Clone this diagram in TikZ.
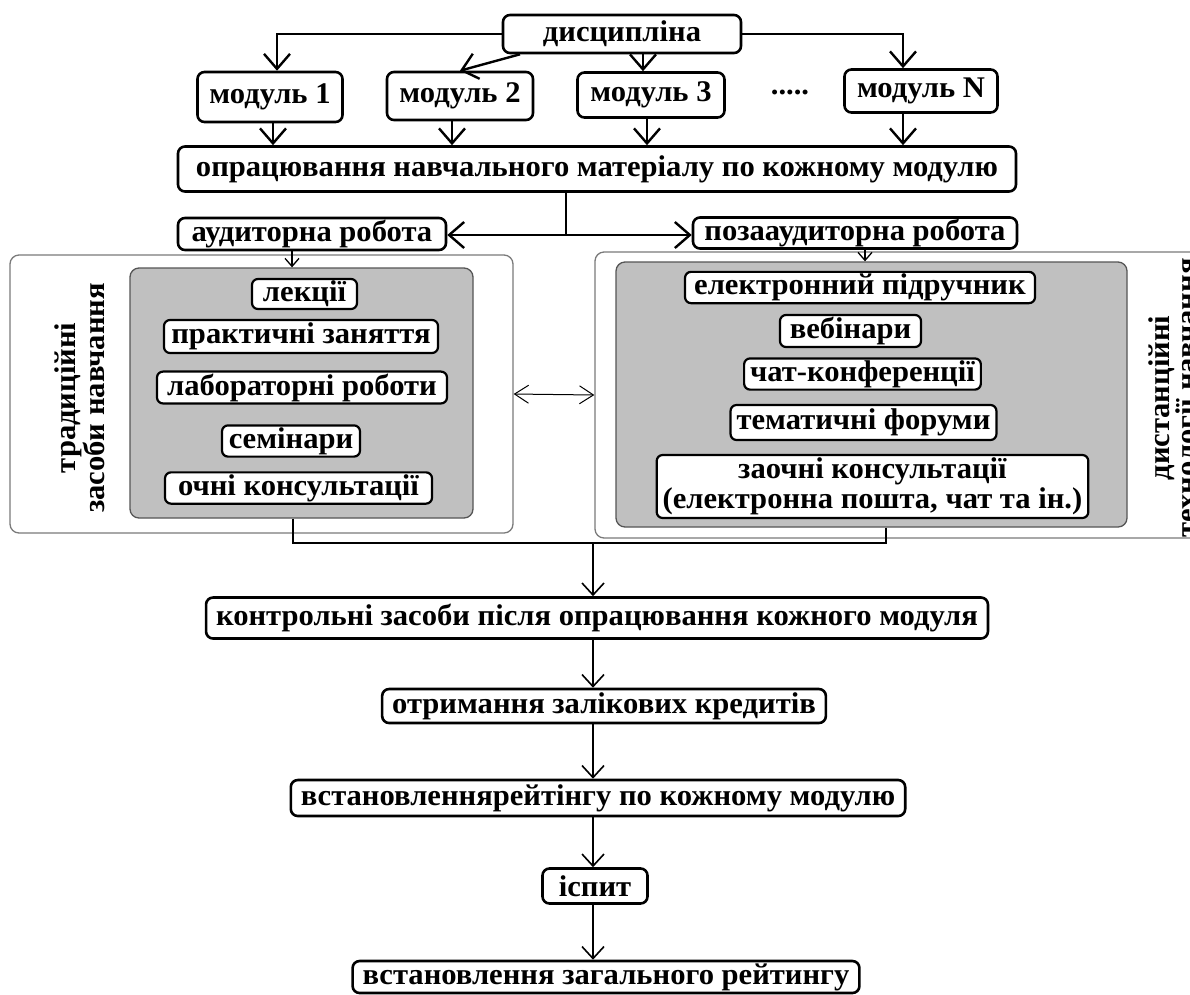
\documentclass[tikz,border=0pt]{standalone}
\usepackage{fontspec}
\newfontfamily\dfont{Liberation Serif}[FakeStretch=1.02]
\usetikzlibrary{arrows.meta}
\definecolor{greyfill}{HTML}{C0C0C0}
\definecolor{greyline}{HTML}{555555}
\definecolor{outline}{HTML}{7A7A7A}
\tikzset{
  every node/.style={font=\dfont\bfseries\fontsize{30}{31}\selectfont},
  bx/.style={draw, line width=2.6pt, rounded corners=7pt, fill=white, inner xsep=10pt, inner ysep=1pt, align=center},
  ib/.style={draw, line width=2.2pt, rounded corners=6pt, fill=white, inner xsep=6pt, inner ysep=2pt, align=center},
  outbox/.style={draw=outline, line width=1.3pt, rounded corners=9pt, fill=white, inner sep=0pt},
  greybox/.style={draw=greyline, line width=1.3pt, rounded corners=9pt, fill=greyfill, inner sep=0pt},
  vtext/.style={rotate=90, align=center, font=\dfont\bfseries\fontsize{30}{26}\selectfont},
  con/.style={line width=2.4pt, -{Straight Barb[length=15pt,width=26pt]}},
  tcon/.style={line width=1.6pt, -{Straight Barb[length=12pt,width=22pt]}},
  scon/.style={line width=1.3pt, -{Straight Barb[length=8pt,width=14pt]}},
  dbl/.style={line width=1pt, {Straight Barb[length=14pt,width=18pt]}-{Straight Barb[length=14pt,width=18pt]}},
  ln/.style={line width=1.6pt},
}
\begin{document}
\begin{tikzpicture}[x=1pt,y=-1pt]
\useasboundingbox (0,0) rectangle (1190,994);
\clip (0,0) rectangle (1190,994);
% top
\node[bx, minimum width=238pt, minimum height=38pt] (disc) at (622,34) {дисципліна};
\node[bx, minimum width=145pt, minimum height=50pt] (m1) at (270,97) {модуль 1};
\node[bx, minimum width=146pt, minimum height=48pt] (m2) at (460,96) {модуль 2};
\node[bx, minimum width=147pt, minimum height=45pt] (m3) at (651,95) {модуль 3};
\node[anchor=base] (dots) at (790,94) {.....};
\node[bx, minimum width=153pt, minimum height=43pt] (mN) at (921,91) {модуль N};
\node[bx, minimum width=838pt, minimum height=45pt] (opr) at (597,169) {опрацювання навчального матеріалу по кожному модулю};
\draw[con] (disc.west) -| ([xshift=7pt]m1.north);
\draw[con] (disc.east) -| ([xshift=-18pt]mN.north);
\draw[con] ([xshift=-8pt]m3.north |- disc.south) -- ([xshift=-8pt]m3.north);
\draw[con] ([xshift=-102pt]disc.south) -- (m2.north);
\draw[con] ([xshift=3pt]m1.south) -- ([xshift=3pt]m1.south |- opr.north);
\draw[con] ([xshift=-8pt]m2.south) -- ([xshift=-8pt]m2.south |- opr.north);
\draw[con] ([xshift=-4pt]m3.south) -- ([xshift=-4pt]m3.south |- opr.north);
\draw[con] ([xshift=-18pt]mN.south) -- ([xshift=-18pt]mN.south |- opr.north);
% work kinds
\node[bx, minimum width=268pt, minimum height=32pt] (aud) at (312,234) {аудиторна робота};
\node[bx, minimum width=324pt, minimum height=31pt] (poza) at (855,233) {позааудиторна робота};
\coordinate (sp) at (566,235);
\draw[line width=2.4pt] ([xshift=-31pt]opr.south) -- (sp);
\draw[con] (sp) -- (aud.east |- sp);
\draw[con] (sp) -- (poza.west |- sp);
% left group
\node[outbox, minimum width=503pt, minimum height=278pt] (lout) at (261.5,394) {};
\node[greybox, minimum width=343pt, minimum height=250pt] (lgrey) at (301.5,393) {};
\node[vtext] (ltxt) at (80,398) {традиційні\\засоби навчання};
\node[ib, minimum width=105pt, minimum height=28pt] (lek) at (304.5,294) {лекції};
\node[ib, minimum width=274pt, minimum height=33pt] (prak) at (301,336.5) {практичні заняття};
\node[ib, minimum width=290pt, minimum height=31pt] (lab) at (302,387.5) {лабораторні роботи};
\node[ib, minimum width=138pt, minimum height=28pt] (sem) at (291,441) {семінари};
\node[ib, minimum width=267pt, minimum height=30pt] (ochn) at (298.5,488) {очні консультації};
% right group
\node[outbox, minimum width=615pt, minimum height=286pt] (rout) at (902.5,395) {};
\node[greybox, minimum width=511pt, minimum height=265pt] (rgrey) at (871.5,394.5) {};
\node[vtext] (rtxt) at (1173,398) {дистанційні\\технології навчання};
\node[ib, minimum width=350pt, minimum height=31pt] (el) at (860,287.5) {електронний підручник};
\node[ib, minimum width=141pt, minimum height=32pt] (web) at (850.5,331) {вебінари};
\node[ib, minimum width=235pt, minimum height=28pt] (chat) at (862.5,374) {чат-конференції};
\node[ib, minimum width=263pt, minimum height=35pt] (tem) at (863.5,422.5) {тематичні форуми};
\node[ib, minimum width=431pt, minimum height=63pt, font=\dfont\bfseries\fontsize{30}{30}\selectfont] (zao) at (872.5,486.5) {заочні консультації\\(електронна пошта, чат та ін.)};
\draw[scon] ([xshift=-20pt]aud.south) -- ([xshift=-20pt]aud.south |- lgrey.north);
\draw[scon] ([xshift=10pt]poza.south) -- ([xshift=10pt]poza.south |- rgrey.north);
\draw[dbl] (lout.east) -- (rout.west);
% bottom chain
\coordinate (j) at (593,543);
\draw[ln] ([xshift=-8.5pt]lgrey.south) |- (j);
\draw[ln] ([xshift=14.5pt]rgrey.south) |- (j);
\node[bx, minimum height=41pt] (kontr) at (597,618) {контрольні засоби після опрацювання кожного модуля};
\node[bx, minimum width=438pt, minimum height=34pt] (otr) at (604,706) {отримання залікових кредитів};
\node[bx, minimum height=36pt] (vst) at (598,798) {встановленнярейтінгу по кожному модулю};
\node[bx, minimum width=105pt, minimum height=35pt] (isp) at (595,886) {іспит};
\node[bx, minimum height=32pt] (zag) at (606,977) {встановлення загального рейтингу};
\draw[tcon] (j) -- (j |- kontr.north);
\draw[tcon] (kontr.south -| j) -- (otr.north -| j);
\draw[tcon] (otr.south -| j) -- (vst.north -| j);
\draw[tcon] (vst.south -| j) -- (isp.north -| j);
\draw[tcon] (isp.south -| j) -- (zag.north -| j);
\end{tikzpicture}
\end{document}
